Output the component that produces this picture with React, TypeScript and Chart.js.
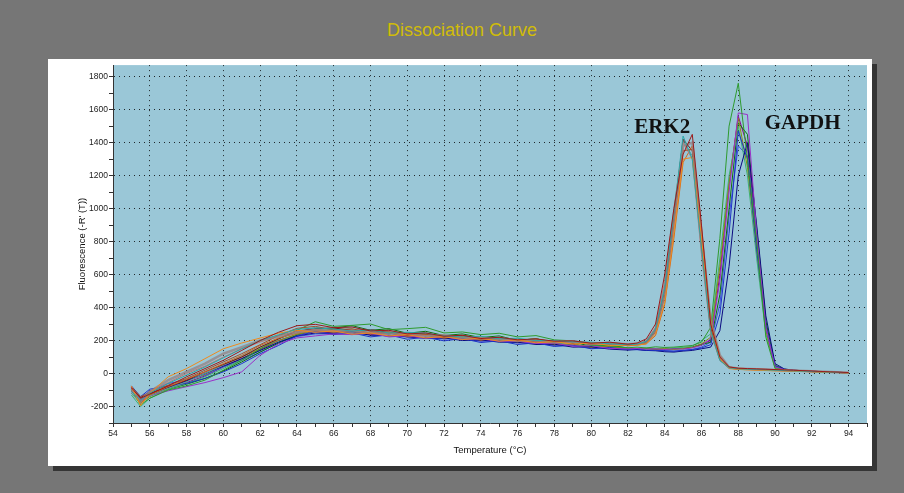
import React, { useEffect, useRef } from "react";
import { Chart, registerables } from "chart.js";

Chart.register(...registerables);

// ---------- data ----------
const temperatures = [
  55, 55.5, 56, 57, 58, 59, 60, 61, 62, 63, 64, 65, 66, 67, 68, 69, 70, 71, 72, 73,
  74, 75, 76, 77, 78, 79, 80, 81, 82, 82.5, 83, 83.5, 84, 84.5, 85, 85.5, 86, 86.5,
  87, 87.5, 88, 88.5, 89, 89.5, 90, 90.5, 91, 92, 93, 94,
];

// ERK2 wells
const erk2A = [-85, -150, -125, -75, -20, 30, 80, 140, 200, 250, 290, 298, 278, 282, 258, 262, 240, 246, 226, 232, 212, 220, 204, 210, 196, 198, 184, 190, 178, 185, 210, 300, 600, 1000, 1330, 1450, 900, 300, 100, 40, 32, 30, 28, 26, 24, 22, 20, 15, 10, 6];
const erk2B = [-110, -160, -120, -60, -10, 40, 95, 150, 200, 235, 268, 276, 270, 258, 264, 246, 250, 244, 228, 222, 226, 210, 214, 200, 200, 192, 190, 180, 175, 178, 195, 270, 520, 980, 1440, 1300, 760, 260, 80, 35, 28, 26, 24, 22, 20, 18, 16, 12, 8, 5];
const erk2C = [-75, -195, -120, -20, 30, 90, 150, 185, 215, 245, 262, 250, 258, 238, 246, 228, 236, 216, 224, 206, 214, 196, 204, 186, 194, 178, 186, 170, 172, 172, 180, 240, 430, 850, 1300, 1310, 820, 300, 90, 30, 25, 22, 20, 18, 16, 15, 14, 10, 7, 4];
const erk2D = [-90, -170, -110, -40, 10, 60, 120, 160, 200, 225, 250, 262, 258, 248, 252, 236, 242, 226, 230, 216, 214, 210, 198, 202, 190, 194, 182, 184, 178, 180, 190, 260, 480, 920, 1380, 1400, 850, 320, 110, 38, 30, 28, 26, 24, 22, 20, 18, 14, 9, 5];
const erk2E = [-80, -140, -115, -70, -30, 20, 70, 120, 175, 230, 274, 286, 264, 272, 244, 254, 230, 240, 222, 232, 210, 218, 200, 210, 190, 196, 178, 186, 170, 175, 185, 250, 470, 900, 1350, 1360, 780, 270, 85, 32, 27, 25, 23, 21, 19, 17, 15, 11, 8, 4];
const erk2F = [-100, -155, -110, -55, 0, 45, 100, 150, 190, 230, 256, 266, 260, 262, 246, 248, 238, 230, 234, 218, 222, 206, 210, 196, 198, 186, 188, 178, 176, 178, 200, 280, 560, 1000, 1400, 1300, 720, 250, 80, 34, 28, 26, 24, 22, 20, 18, 16, 12, 8, 5];
const erk2G = [-95, -180, -130, -80, -35, 10, 60, 110, 170, 215, 244, 266, 252, 262, 240, 248, 226, 236, 216, 224, 204, 214, 196, 204, 186, 192, 176, 184, 168, 172, 180, 230, 420, 820, 1280, 1380, 880, 330, 110, 40, 32, 30, 27, 25, 22, 20, 18, 13, 9, 5];
const erk2H = [-90, -145, -120, -80, -40, 10, 55, 100, 160, 210, 258, 270, 276, 262, 266, 248, 242, 238, 224, 230, 212, 214, 204, 196, 200, 186, 188, 176, 174, 176, 190, 260, 500, 950, 1420, 1350, 800, 280, 90, 36, 30, 28, 25, 23, 21, 19, 17, 13, 8, 4];
const erk2I = [-120, -175, -135, -90, -50, 0, 50, 105, 160, 210, 248, 280, 272, 284, 256, 262, 238, 248, 224, 234, 212, 222, 202, 210, 192, 200, 182, 190, 176, 180, 195, 275, 540, 980, 1410, 1320, 740, 250, 78, 33, 27, 25, 23, 21, 19, 17, 15, 11, 7, 4];

// GAPDH wells
const gapdhA = [-100, -190, -150, -100, -75, -40, 20, 80, 150, 210, 262, 314, 286, 292, 300, 266, 272, 280, 246, 252, 236, 244, 222, 230, 204, 198, 172, 168, 156, 160, 155, 162, 158, 160, 165, 170, 190, 280, 820, 1500, 1760, 1300, 800, 220, 30, 22, 18, 12, 8, 4];
const gapdhB = [-85, -165, -135, -105, -80, -55, -25, 10, 110, 180, 216, 228, 240, 236, 246, 222, 228, 214, 222, 206, 210, 196, 196, 182, 184, 166, 168, 152, 150, 152, 148, 150, 145, 150, 148, 155, 170, 210, 560, 1100, 1580, 1570, 850, 280, 40, 24, 20, 14, 9, 5];
const gapdhC = [-75, -140, -95, -75, -60, -30, 10, 60, 120, 170, 228, 254, 236, 246, 222, 234, 208, 220, 198, 212, 188, 198, 176, 186, 164, 172, 150, 158, 144, 148, 142, 140, 138, 135, 140, 145, 155, 175, 360, 850, 1470, 1300, 750, 280, 45, 25, 18, 12, 8, 4];
const gapdhD = [-100, -155, -120, -85, -45, 0, 45, 90, 140, 190, 228, 246, 244, 252, 232, 230, 222, 214, 216, 200, 204, 190, 190, 176, 178, 160, 162, 148, 142, 146, 140, 138, 132, 130, 136, 140, 150, 160, 260, 650, 1200, 1400, 900, 350, 60, 28, 20, 14, 9, 5];
const gapdhE = [-120, -180, -140, -90, -45, -5, 50, 100, 150, 200, 238, 262, 250, 264, 242, 250, 226, 236, 214, 224, 202, 212, 190, 198, 174, 182, 158, 166, 148, 152, 150, 148, 150, 145, 152, 158, 180, 220, 650, 1150, 1550, 1250, 760, 260, 40, 22, 18, 12, 8, 4];
const gapdhF = [-130, -200, -150, -95, -60, -20, 30, 85, 140, 190, 238, 262, 266, 258, 262, 242, 246, 228, 230, 214, 218, 200, 204, 186, 186, 170, 170, 158, 152, 150, 155, 152, 148, 155, 158, 165, 200, 240, 700, 1200, 1500, 1200, 700, 240, 35, 22, 17, 12, 8, 4];
const gapdhG = [-95, -170, -130, -95, -65, -30, 15, 70, 130, 185, 234, 270, 276, 290, 262, 272, 244, 256, 230, 240, 218, 228, 200, 212, 182, 192, 164, 172, 154, 150, 152, 150, 146, 152, 150, 160, 175, 190, 480, 1000, 1520, 1450, 880, 320, 50, 26, 20, 14, 9, 5];
const gapdhH = [-90, -150, -105, -60, -40, -10, 40, 80, 130, 185, 224, 240, 242, 236, 242, 224, 226, 216, 210, 212, 196, 198, 186, 184, 170, 168, 154, 152, 146, 144, 140, 142, 138, 136, 140, 146, 160, 190, 420, 950, 1380, 1320, 800, 300, 45, 24, 18, 12, 8, 4];
const gapdhI = [-110, -160, -125, -90, -55, -15, 40, 90, 145, 200, 236, 256, 246, 258, 236, 246, 222, 234, 210, 220, 198, 208, 186, 196, 170, 178, 156, 164, 148, 148, 152, 146, 148, 150, 152, 160, 178, 200, 600, 1150, 1560, 1380, 820, 290, 40, 23, 18, 12, 8, 4];

const seriesValues = [
  erk2A, erk2B, erk2C, erk2D, erk2E, erk2F, erk2G, erk2H, erk2I,
  gapdhA, gapdhB, gapdhC, gapdhD, gapdhE, gapdhF, gapdhG, gapdhH, gapdhI,
];

const annotationTexts = ["ERK2", "GAPDH"];

// ---------- style ----------
const seriesColors = [
  "#9b1b1b", "#2aa6a6", "#f08a1c", "rgba(150,128,128,0.75)", "#a0522d", "#c07878", "#d2691e", "#7a1010", "#5f9ea0",
  "#2e9b2e", "#9b30c8", "#1e32c8", "#0a0a80", "#8c8c10", "#3cb371", "#0e6e0e", "#3c50dc", "#8b008b",
];
const seriesWidths = [1, 1, 1, 2.5, 1, 1, 1, 1, 1, 1, 1, 1, 1, 1, 1, 1, 1, 1];
const annotationAnchors = [
  { x: 83.86, y: 1457 },
  { x: 91.5, y: 1481 },
];

const PLOT_BG = "#9ac7d7";
const GRID = "rgba(0,0,0,0.8)";
const NARROW = "'Liberation Sans Narrow', 'Liberation Sans', Arial, sans-serif";

const plotBgPlugin = {
  id: "plotBg",
  beforeDraw(chart: any) {
    const { ctx, chartArea: a } = chart;
    ctx.save();
    ctx.fillStyle = PLOT_BG;
    ctx.fillRect(a.left, a.top, a.right - a.left, a.bottom - a.top);
    ctx.restore();
  },
};

const annotationPlugin = {
  id: "peakLabels",
  afterDatasetsDraw(chart: any) {
    const { ctx, scales } = chart;
    ctx.save();
    ctx.font = "bold 21px 'Liberation Serif', 'Times New Roman', serif";
    ctx.fillStyle = "#111";
    ctx.textAlign = "center";
    ctx.textBaseline = "alphabetic";
    annotationTexts.forEach((t, i) => {
      const px = scales.x.getPixelForValue(annotationAnchors[i].x);
      const py = scales.y.getPixelForValue(annotationAnchors[i].y);
      ctx.fillText(t, px, py);
    });
    ctx.restore();
  },
};

export default function App() {
  const canvasRef = useRef<HTMLCanvasElement | null>(null);

  useEffect(() => {
    if (!canvasRef.current) return;
    const datasets = seriesValues.map((vals, i) => ({
      data: temperatures.map((t, j) => ({ x: t, y: vals[j] })),
      borderColor: seriesColors[i],
      borderWidth: seriesWidths[i],
      pointRadius: 0,
      tension: 0,
      fill: false,
    }));

    const chart = new Chart(canvasRef.current, {
      type: "line",
      data: { datasets },
      plugins: [plotBgPlugin, annotationPlugin],
      options: {
        animation: false,
        responsive: false,
        maintainAspectRatio: false,
        events: [],
        layout: { padding: { left: 0, top: 5, right: 5, bottom: 0 } },
        plugins: { legend: { display: false }, tooltip: { enabled: false }, title: { display: false } },
        scales: {
          x: {
            type: "linear",
            min: 54,
            max: 95,
            afterFit: (s: any) => { s.height = 43; },
            ticks: {
              stepSize: 1,
              autoSkip: false,
              maxRotation: 0,
              padding: 2,
              color: "#222",
              font: { family: NARROW, size: 8.5 },
              callback: (v: any) => (Number(v) % 2 === 0 && Number(v) <= 94 ? String(v) : ""),
            },
            grid: {
              color: (c: any) => {
                const v = c.tick ? c.tick.value : 0;
                return v % 2 === 0 && v > 54 && v < 95 ? GRID : "rgba(0,0,0,0)";
              },
              lineWidth: 1,
              drawTicks: true,
              tickLength: 4,
              tickColor: "#333",
              tickWidth: 1,
              tickBorderDash: [],
            },
            border: { display: true, color: "#333", width: 1, dash: [1, 4] },
            title: {
              display: true,
              text: "Temperature (°C)",
              color: "#111",
              font: { family: NARROW, size: 9.5 },
              padding: { top: 0, bottom: 10 },
            },
          },
          y: {
            type: "linear",
            min: -300,
            max: 1870,
            afterFit: (s: any) => { s.width = 65; },
            ticks: {
              stepSize: 100,
              autoSkip: false,
              padding: 1,
              color: "#222",
              font: { family: NARROW, size: 8.5 },
              callback: (v: any) => {
                const n = Number(v);
                return n % 200 === 0 && n >= -200 && n <= 1800 ? String(n) : "";
              },
            },
            grid: {
              color: (c: any) => {
                const v = c.tick ? c.tick.value : 0;
                return v % 200 === 0 && v > -300 && v <= 1800 ? GRID : "rgba(0,0,0,0)";
              },
              lineWidth: 1,
              drawTicks: true,
              tickLength: 4,
              tickColor: (c: any) => {
                const v = c.tick ? c.tick.value : 0;
                return v % 100 === 0 ? "#333" : "rgba(0,0,0,0)";
              },
              tickWidth: 1,
              tickBorderDash: [],
            },
            border: { display: true, color: "#333", width: 1, dash: [1, 4] },
            title: {
              display: true,
              text: "Fluorescence (-R' (T))",
              color: "#111",
              font: { family: "'Liberation Sans', Arial, sans-serif", size: 9.5 },
              padding: { top: 29, bottom: 0 },
            },
          },
        },
      },
    } as any);

    return () => chart.destroy();
  }, []);

  return (
    <div style={{ position: "fixed", left: 0, top: 0, width: 904, height: 493, background: "#767676", overflow: "hidden" }}>
      <div
        style={{
          position: "absolute",
          left: 0,
          width: 924,
          top: 19,
          height: 22,
          lineHeight: "22px",
          textAlign: "center",
          color: "#d1bc08",
          fontFamily: NARROW,
          fontSize: 18,
        }}
      >
        Dissociation Curve
      </div>
      <div
        style={{
          position: "absolute",
          left: 48,
          top: 59,
          width: 824,
          height: 407,
          background: "#ffffff",
          boxShadow: "5px 5px 0 #353535",
        }}
      >
        <canvas ref={canvasRef} width={824} height={407} style={{ display: "block", width: 824, height: 407 }} />
      </div>
    </div>
  );
}
